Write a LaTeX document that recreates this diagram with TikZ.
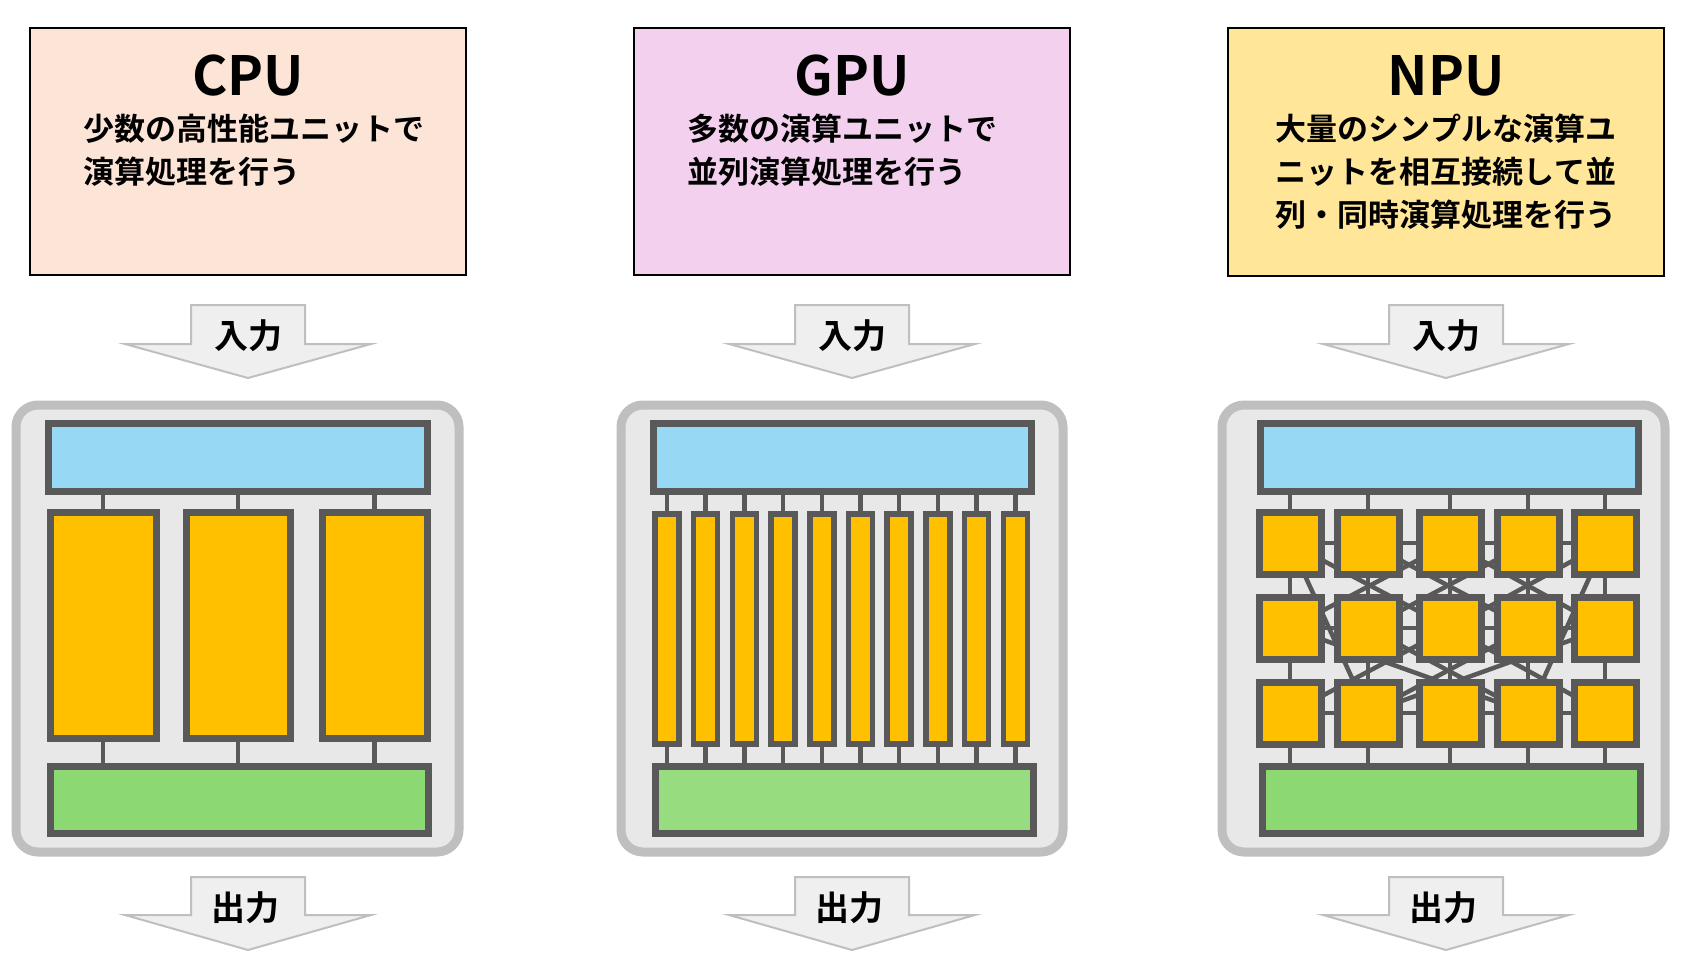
\documentclass[tikz,border=0pt]{standalone}
\usepackage{fontspec}
\setmainfont{Noto Sans CJK JP}[BoldFont={Noto Sans CJK JP Bold}]
\definecolor{ol}{HTML}{595959}
\definecolor{cpuf}{HTML}{FCE4D6}
\definecolor{gpuf}{HTML}{F2D0EE}
\definecolor{npuf}{HTML}{FFE699}
\definecolor{bl}{HTML}{97D9F5}
\definecolor{org}{HTML}{FFC000}
\definecolor{gr}{HTML}{8CD872}
\definecolor{grl}{HTML}{98DC80}
\definecolor{chipf}{HTML}{E8E8E8}
\definecolor{chipb}{HTML}{BFBFBF}
\begin{document}
\begin{tikzpicture}[x=1pt,y=-1pt,
  infobox/.style={draw=black,line width=1.5pt},
  chip/.style={draw=chipb,fill=chipf,line width=9pt,rounded corners=22pt},
  part/.style={draw=ol,line width=7pt},
  wire/.style={draw=ol,line width=4.5pt},
  arr/.style={draw=chipb,fill=chipf!70!white,line width=2pt},
  ttl/.style={font=\fontsize{54}{60}\selectfont\bfseries},
  desc/.style={font=\fontsize{31}{43}\selectfont\bfseries,align=left,anchor=north west,inner sep=0pt},
  albl/.style={font=\fontsize{34}{40}\selectfont\bfseries}]
\useasboundingbox (0,0) rectangle (1684,974);
% info boxes
\draw[infobox,fill=cpuf] (30,28) rectangle (466,275);
\draw[infobox,fill=gpuf] (634,28) rectangle (1070,275);
\draw[infobox,fill=npuf] (1228,28) rectangle (1664,276);
\node[ttl] (tc) at (248,76) {CPU};
\node[ttl] (tg) at (852,76) {GPU};
\node[ttl] (tn) at (1446,76) {NPU};
\node[desc] (dc) at (83,114) {少数の高性能ユニットで\\演算処理を行う};
\node[desc] (dg) at (687,114) {多数の演算ユニットで\\並列演算処理を行う};
\node[desc,align=center,anchor=north] (dn) at (1446,114) {大量のシンプルな演算ユ\\ニットを相互接続して並\\列・同時演算処理を行う};
% arrows
\foreach \cx/\nm in {248/c,852/g,1446/n}{
  \draw[arr] (\cx-57,305) -- (\cx+57,305) -- (\cx+57,344) -- (\cx+123,344) -- (\cx,378) -- (\cx-123,344) -- (\cx-57,344) -- cycle;
  \node[albl] (in\nm) at (\cx,336) {入力};
  \draw[arr] (\cx-57,877) -- (\cx+57,877) -- (\cx+57,915) -- (\cx+123,915) -- (\cx,950) -- (\cx-123,915) -- (\cx-57,915) -- cycle;
  \node[albl] (out\nm) at (\cx-3,908) {出力};
}
% chips
\draw[chip] (16,405) rectangle (459,852);
\draw[chip] (621,405) rectangle (1063,852);
\draw[chip] (1222,405) rectangle (1665,852);
% CPU
\foreach \a/\b in {50/156,186/290,322/427}{
  \draw[wire] ({(\a+\b)/2},491) -- ({(\a+\b)/2},766);
}
\draw[part,fill=bl] (48,423) rectangle (427,491);
\draw[part,fill=gr] (50,766) rectangle (428,833);
\foreach \a/\b in {50/156,186/290,322/427}{
  \draw[part,fill=org] (\a,512) rectangle (\b,738);
}
% GPU
\foreach \i in {0,...,9}{
  \draw[wire] (667+\i*38.7,491) -- (667+\i*38.7,766);
}
\draw[part,fill=bl] (653,423) rectangle (1031,491);
\draw[part,fill=grl] (655,766) rectangle (1033,833);
\foreach \i in {0,...,9}{
  \draw[part,fill=org,line width=5.5pt] (655+\i*38.7,514) rectangle (679+\i*38.7,744);
}
% NPU
\def\cxa{1290}\def\cxb{1368}\def\cxc{1450}\def\cxd{1528}\def\cxe{1605}
\foreach \c in {1290,1368,1450,1528,1605}{
  \draw[wire] (\c,491) -- (\c,766);
  \coordinate (dummy) at (\c,0);
}
\foreach \r in {543,628,713}{
  \draw[wire] (1290,\r) -- (1605,\r);
}
\foreach \p/\q in {1290/543/1368/713, 1605/543/1528/713, 1290/543/1450/628, 1605/543/1450/628,
  1368/543/1528/628, 1528/543/1368/628, 1450/543/1605/628, 1450/543/1290/628,
  1290/713/1450/628, 1605/713/1450/628, 1368/713/1528/628, 1528/713/1368/628,
  1368/713/1605/628, 1528/713/1290/628, 1368/543/1605/713, 1528/543/1290/713}{
}
\foreach \xa/\ya/\xb/\yb in {1290/543/1368/713, 1605/543/1528/713, 1290/543/1450/628, 1605/543/1450/628,
  1368/543/1528/628, 1528/543/1368/628, 1450/543/1605/628, 1450/543/1290/628,
  1290/713/1450/628, 1605/713/1450/628, 1368/713/1528/628, 1528/713/1368/628,
  1368/713/1605/628, 1528/713/1290/628}{
  \draw[wire] (\xa,\ya) -- (\xb,\yb);
}
\draw[part,fill=bl] (1260,423) rectangle (1638,491);
\draw[part,fill=gr] (1262,766) rectangle (1640,833);
\foreach \c in {1290,1368,1450,1528,1605}{
  \foreach \r in {543,628,713}{
    \draw[part,fill=org] (\c-31,\r-31) rectangle (\c+31,\r+31);
  }
}
\end{tikzpicture}
\end{document}
